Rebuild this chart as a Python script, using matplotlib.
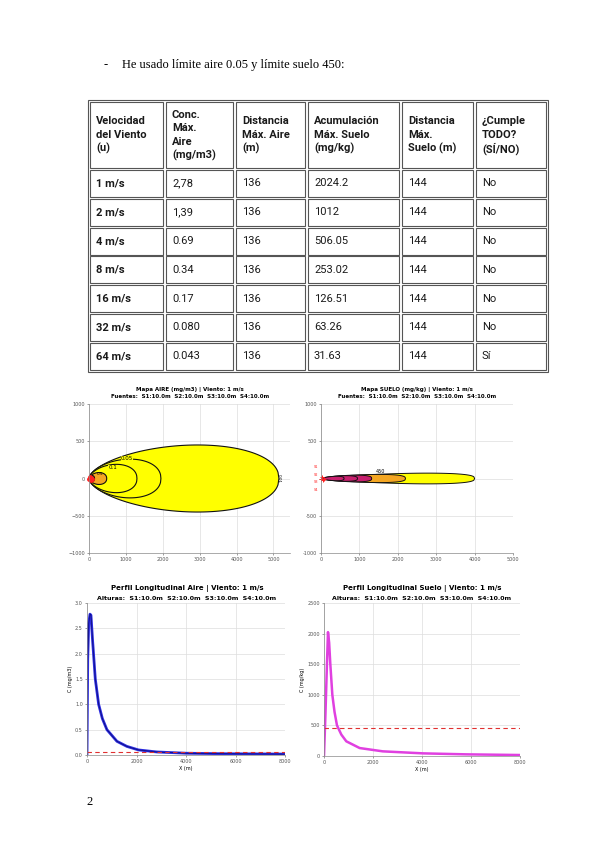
import numpy as np
import matplotlib
matplotlib.use("Agg")
import matplotlib.pyplot as plt
from matplotlib.patches import Rectangle

# ---- table data ----
header = [
    ["Velocidad", "del Viento", "(u)"],
    ["Conc.", "Máx.", "Aire", "(mg/m3)"],
    ["Distancia", "Máx. Aire", "(m)"],
    ["Acumulación", "Máx. Suelo", "(mg/kg)"],
    ["Distancia", "Máx.", "Suelo (m)"],
    ["¿Cumple", "TODO?", "(SÍ/NO)"],
]
viento = ["1 m/s", "2 m/s", "4 m/s", "8 m/s", "16 m/s", "32 m/s", "64 m/s"]
conc_aire = ["2,78", "1,39", "0.69", "0.34", "0.17", "0.080", "0.043"]
dist_aire = ["136", "136", "136", "136", "136", "136", "136"]
acum_suelo = ["2024.2", "1012", "506.05", "253.02", "126.51", "63.26", "31.63"]
dist_suelo = ["144", "144", "144", "144", "144", "144", "144"]
cumple = ["No", "No", "No", "No", "No", "No", "Sí"]

# ---- map data (contour level, reach along wind [m], half width [m]) ----
aire_niveles = ["0.01", "0.05", "0.1", "0.5", "1"]
aire_alcance = [5150, 1950, 1300, 480, 150]
aire_ancho = [450, 260, 190, 80, 40]

suelo_niveles = ["450", "1000", "1500", "2000", "2500"]
suelo_alcance = [4000, 2200, 1320, 950, 600]
suelo_ancho = [72, 55, 45, 38, 30]

fuentes = ["S1", "S2", "S3", "S4"]
fuente_x = [0, 30, 60, 90]
fuente_y = [0, 15, -15, 0]

# ---- longitudinal profiles ----
aire_x = [0, 30, 70, 120, 160, 220, 335, 470, 620, 805, 1210, 1610, 2080,
          2820, 4000, 5500, 8000]
aire_c = [0, 1.9, 2.6, 2.78, 2.76, 2.3, 1.5, 1.0, 0.72, 0.5, 0.27, 0.17,
          0.1, 0.06, 0.035, 0.025, 0.018]
suelo_x = [0, 60, 120, 163, 210, 258, 340, 430, 530, 707, 910, 1455, 2400,
           4040, 5800, 8000]
suelo_c = [0, 700, 1500, 2024, 1850, 1500, 1000, 720, 500, 350, 240, 130,
           76, 43, 27, 16]
limite_aire = 0.05
limite_suelo = 450

W, H = 599, 848
fig = plt.figure(figsize=(W / 100, H / 100), dpi=100)
page = fig.add_axes([0, 0, 1, 1])
page.set_xlim(0, W)
page.set_ylim(H, 0)
page.axis("off")

serif = "Liberation Serif"
sans = "Roboto"

page.text(104, 65, "-", fontsize=9, family=serif, va="center")
page.text(122, 65, "He usado límite aire 0.05 y límite suelo 450:",
          fontsize=9, family=serif, va="center")
page.text(86, 802, "2", fontsize=9, family=serif, va="center")

# table borders
edge = "#555555"
page.add_patch(Rectangle((88, 100), 460, 272, fill=False, ec=edge, lw=0.8))
cols = [(90, 163), (166, 233), (236, 305), (308, 399), (402, 473), (476, 546)]
rows = [(102, 168)] + [(170 + i * 28.8, 197 + i * 28.8) for i in range(7)]
for (x0, x1) in cols:
    for (y0, y1) in rows:
        page.add_patch(Rectangle((x0, y0), x1 - x0, y1 - y0, fill=False,
                                 ec=edge, lw=0.8))

for j, lines in enumerate(header):
    n = len(lines)
    for i, t in enumerate(lines):
        yy = 135 + (i - (n - 1) / 2) * 13.5
        page.text(cols[j][0] + 6, yy, t, fontsize=8, family=sans,
                  weight="bold", va="center", color="#1a1a1a")

table_cols = [viento, conc_aire, dist_aire, acum_suelo, dist_suelo, cumple]
for j, col in enumerate(table_cols):
    for i, t in enumerate(col):
        y0, y1 = rows[i + 1]
        page.text(cols[j][0] + 6, (y0 + y1) / 2, t, fontsize=8, family=sans,
                  weight="bold" if j == 0 else "normal", va="center",
                  color="#1a1a1a")


def px_axes(x0, y0, x1, y1):
    return fig.add_axes([x0 / W, 1 - y1 / H, (x1 - x0) / W, (y1 - y0) / H])


def style(ax):
    for s in ["top", "right"]:
        ax.spines[s].set_visible(False)
    for s in ["left", "bottom"]:
        ax.spines[s].set_color("#888888")
        ax.spines[s].set_linewidth(0.5)
    ax.grid(True, color="#dddddd", lw=0.5)
    ax.set_axisbelow(True)
    ax.tick_params(labelsize=3.5, length=1.5, width=0.4, pad=1.5,
                   colors="#555555")


def plume(ax, reach, half, p, q, **kw):
    s = np.linspace(0, 1, 200)
    shape = s ** p * (1 - s) ** q
    shape = shape / shape.max()
    xs = np.concatenate([reach * s, reach * s[::-1]])
    ys = np.concatenate([half * shape, -half * shape[::-1]])
    ax.fill(xs, ys, **kw)


fuente_txt = "Fuentes:  S1:10.0m  S2:10.0m  S3:10.0m  S4:10.0m"
altura_txt = "Alturas:  S1:10.0m  S2:10.0m  S3:10.0m  S4:10.0m"

# ---- Mapa aire ----
ax1 = px_axes(89, 404, 290, 553)
style(ax1)
fill1 = ["#ffff00", "#ffff00", "#ffff00", "#f4a622", "#e3221c"]
for lev, r, h, c in zip(aire_niveles, aire_alcance, aire_ancho, fill1):
    plume(ax1, r, h, 0.6, 0.45, fc=c, ec="#111111", lw=0.8)
ax1.text(1030, 265, aire_niveles[1], fontsize=4, ha="center", va="center",
         bbox=dict(fc="#ffff00", ec="none", pad=0.2))
ax1.text(640, 150, aire_niveles[2], fontsize=4, ha="center", va="center",
         bbox=dict(fc="#ffff00", ec="none", pad=0.2))
ax1.text(300, 60, aire_niveles[3], fontsize=3, ha="center", va="center")
ax1.text(5150, 0, aire_niveles[0], fontsize=3, ha="center", va="center",
         rotation=-90)
ax1.plot(fuente_x, fuente_y, "o", color="#ff2020", ms=2.5, clip_on=False)
ax1.set_xlim(0, 5450)
ax1.set_ylim(-1000, 1000)
ax1.set_xticks([0, 1000, 2000, 3000, 4000, 5000])
ax1.set_yticks([-1000, -500, 0, 500, 1000])
page.text(190, 389, "Mapa AIRE (mg/m3) | Viento: 1 m/s", fontsize=4,
          weight="bold", ha="center", va="center")
page.text(190, 397, fuente_txt, fontsize=4, weight="bold", ha="center",
          va="center")

# ---- Mapa suelo ----
ax2 = px_axes(321, 404, 513, 553)
style(ax2)
fill2 = ["#ffff00", "#f4a622", "#c8206e", "#c8206e", "#c8206e"]
for lev, r, h, c in zip(suelo_niveles, suelo_alcance, suelo_ancho, fill2):
    plume(ax2, r, h, 0.8, 0.35, fc=c, ec="#111111", lw=0.7)
ax2.text(1550, 95, suelo_niveles[0], fontsize=3.5, ha="center", va="center")
ax2.plot(fuente_x, fuente_y, "+", color="#ff2020", ms=3, mew=0.7,
         clip_on=False)
# source names stacked left of the axis so they do not collide
for k, name in enumerate(fuentes):
    ax2.text(-80, 150 - k * 100, name, fontsize=2.5, color="#ff2020",
             ha="right", va="center", clip_on=False)
ax2.set_xlim(0, 5000)
ax2.set_ylim(-1000, 1000)
ax2.set_xticks([0, 1000, 2000, 3000, 4000, 5000])
ax2.set_yticks([-1000, -500, 0, 500, 1000])
ax2.set_yticklabels(["-1000", "-500", "", "500", "1000"])
page.text(417, 389, "Mapa SUELO (mg/kg) | Viento: 1 m/s", fontsize=4,
          weight="bold", ha="center", va="center")
page.text(417, 397, fuente_txt, fontsize=4, weight="bold", ha="center",
          va="center")

# ---- Perfil aire ----
ax3 = px_axes(87, 603, 285, 755)
style(ax3)
ax3.plot(aire_x, aire_c, color="#2b2be0", lw=2.0)
ax3.plot(aire_x, aire_c, color="#0a0a70", lw=0.5)
ax3.axhline(limite_aire, color="#e03030", ls=(0, (4, 3)), lw=0.8)
ax3.set_xlim(0, 8000)
ax3.set_ylim(0, 3)
ax3.set_xticks([0, 2000, 4000, 6000, 8000])
ax3.set_yticks([0, 0.5, 1, 1.5, 2, 2.5, 3])
ax3.set_xlabel("X (m)", fontsize=3.5, labelpad=1.5)
ax3.set_ylabel("C (mg/m3)", fontsize=3.5, labelpad=1.5)
page.text(187, 588, "Perfil Longitudinal Aire | Viento: 1 m/s", fontsize=5,
          weight="bold", ha="center", va="center")
page.text(187, 598, altura_txt, fontsize=4.5, weight="bold", ha="center",
          va="center")

# ---- Perfil suelo ----
ax4 = px_axes(324, 603, 520, 756)
style(ax4)
ax4.plot(suelo_x, suelo_c, color="#e040e0", lw=1.8)
ax4.axhline(limite_suelo, color="#e03030", ls=(0, (4, 3)), lw=0.8)
ax4.set_xlim(0, 8000)
ax4.set_ylim(0, 2500)
ax4.set_xticks([0, 2000, 4000, 6000, 8000])
ax4.set_yticks([0, 500, 1000, 1500, 2000, 2500])
ax4.set_xlabel("X (m)", fontsize=3.5, labelpad=1.5)
ax4.set_ylabel("C (mg/kg)", fontsize=3.5, labelpad=1.5)
page.text(422, 588, "Perfil Longitudinal Suelo | Viento: 1 m/s", fontsize=5,
          weight="bold", ha="center", va="center")
page.text(422, 598, altura_txt, fontsize=4.5, weight="bold", ha="center",
          va="center")

fig.savefig("out.png", dpi=100, facecolor="white")
